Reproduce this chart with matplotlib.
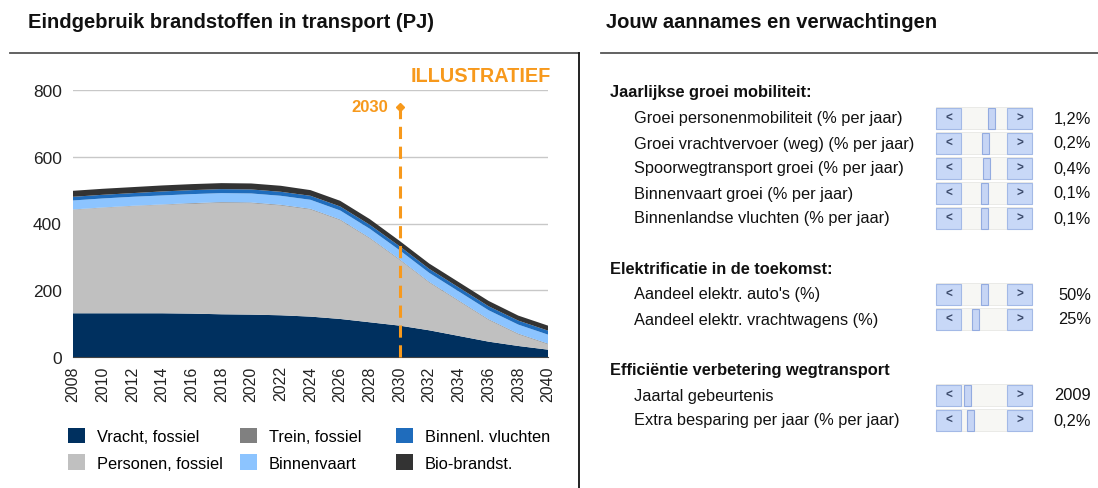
# -*- coding: utf-8 -*-

import numpy as np
import matplotlib
matplotlib.use('Agg')
import matplotlib.pyplot as plt
from matplotlib.patches import Rectangle

# lettertype (lijkt op Arial)
plt.rcParams['font.family'] = ['Liberation Sans', 'DejaVu Sans']

# ---- gegevens: eindgebruik brandstoffen (PJ) ----
jaren = [2008, 2010, 2012, 2014, 2016, 2018, 2020, 2022, 2024,
         2026, 2028, 2030, 2032, 2034, 2036, 2038, 2040]
vracht = [131, 131, 131, 131, 130, 128, 127, 125, 121, 114, 104, 94, 80, 63, 46, 33, 22]
personen = [310, 316, 321, 325, 329, 334, 334, 329, 321, 296, 251, 197, 143, 104, 65, 35, 16]
trein = [1, 1, 1, 1, 2, 2, 2, 2, 2, 2, 2, 2, 2, 2, 2, 2, 2]
binnenvaart = [27, 27, 27, 27, 27, 27, 27, 27, 27, 27, 27, 27, 27, 27, 27, 27, 27]
vluchten = [11, 11, 11, 12, 12, 12, 12, 12, 12, 12, 12, 12, 12, 12, 12, 12, 12]
bio = [18, 18, 18, 18, 18, 18, 18, 18, 17, 17, 17, 16, 16, 16, 16, 15, 15]

reeks_namen = ['Vracht, fossiel', 'Personen, fossiel', 'Trein, fossiel',
               'Binnenvaart', 'Binnenl. vluchten', 'Bio-brandst.']
markeer_jaar = 2030
markeer_hoogte = 750

# ---- gegevens: aannames (schuifbalken) ----
groep_titels = ['Jaarlijkse groei mobiliteit:', 'Elektrificatie in de toekomst:',
                'Efficiëntie verbetering wegtransport']
aanname_labels = ['Groei personenmobiliteit (% per jaar)',
                  'Groei vrachtvervoer (weg) (% per jaar)',
                  'Spoorwegtransport groei (% per jaar)',
                  'Binnenvaart groei (% per jaar)',
                  'Binnenlandse vluchten (% per jaar)',
                  "Aandeel elektr. auto's (%)",
                  'Aandeel elektr. vrachtwagens (%)',
                  'Jaartal gebeurtenis',
                  'Extra besparing per jaar (% per jaar)']
aanname_waarden = ['1,2%', '0,2%', '0,4%', '0,1%', '0,1%', '50%', '25%', '2009', '0,2%']

# stand van de schuifjes (0..1 over de baan)
schuif_stand = [0.66, 0.53, 0.55, 0.50, 0.50, 0.50, 0.30, 0.12, 0.20]

kleuren = ['#00305f', '#c0c0c0', '#808080', '#8cc4ff', '#1f6cbc', '#333333']
oranje = '#f7991c'

W, H = 1098, 489
fig = plt.figure(figsize=(W / 100, H / 100), dpi=100)

# ---- grafiek links ----
ax = fig.add_axes([73 / W, 1 - 358 / H, (548 - 73) / W, (358 - 91) / H])
lagen = ax.stackplot(jaren, vracht, personen, trein, binnenvaart, vluchten, bio,
                     colors=kleuren, labels=reeks_namen, linewidth=0, zorder=2)
ax.set_xlim(2008, 2040)
ax.set_ylim(0, 800)
ax.set_yticks([0, 200, 400, 600, 800])
ax.set_xticks(range(2008, 2041, 2))
ax.tick_params(axis='y', length=0, pad=8, labelsize=12.5, labelcolor='#222222')
ax.tick_params(axis='x', length=0, pad=6, labelsize=11.5, labelcolor='#222222',
               labelrotation=90)
ax.grid(axis='y', color='#c8c8c8', lw=1, zorder=0)
for s in ['left', 'right', 'top']:
    ax.spines[s].set_visible(False)
ax.spines['bottom'].set_color('#444444')
ax.spines['bottom'].set_zorder(3)

# verticale stippellijn 2030
ax.plot([markeer_jaar, markeer_jaar], [0, markeer_hoogte], color=oranje, lw=2.2,
        dashes=(4, 2.5), zorder=4, clip_on=False)
ax.plot([markeer_jaar], [markeer_hoogte], marker='D', ms=4, color=oranje,
        zorder=4, clip_on=False)
ax.text(markeer_jaar - 0.75, markeer_hoogte, str(markeer_jaar), color=oranje,
        fontsize=12, fontweight='bold', ha='right', va='center')

# legenda: drie kolommen van elk twee items
kolom_x = [68, 240, 396]
for k in range(3):
    leg = ax.legend(lagen[2 * k:2 * k + 2], reeks_namen[2 * k:2 * k + 2],
                    loc='upper left', bbox_to_anchor=(kolom_x[k] / W, 1 - 429 / H),
                    bbox_transform=fig.transFigure, frameon=False, fontsize=11.8,
                    handlelength=1.05, handleheight=1.05, handletextpad=0.72,
                    labelspacing=0.62, borderpad=0, borderaxespad=0)
    if k < 2:
        ax.add_artist(leg)

# ---- achtergrond / decoratie ----
bg = fig.add_axes([0, 0, 1, 1])
bg.set_xlim(0, W)
bg.set_ylim(H, 0)
bg.axis('off')

# titels en lijnen
bg.text(28, 22, 'Eindgebruik brandstoffen in transport (PJ)', fontsize=14.5,
        fontweight='bold', ha='left', va='center', color='#111111')
bg.text(606, 22, 'Jouw aannames en verwachtingen', fontsize=14.5,
        fontweight='bold', ha='left', va='center', color='#111111')
bg.plot([10, 579], [54, 54], color='#555555', lw=1.3)
bg.plot([579, 579], [54, H], color='#111111', lw=1.3)
bg.plot([601, W], [54, 54], color='#555555', lw=1.3)
bg.text(551, 76, 'ILLUSTRATIEF', color=oranje, fontsize=14.3, fontweight='bold',
        ha='right', va='center')

# aannames rechts
groep_y = [93, 270, 370]
rij_y = [119, 144, 169, 194, 219, 295, 320, 396, 421]
for g, titel in enumerate(groep_titels):
    bg.text(610, groep_y[g], titel, fontsize=11.8, fontweight='bold',
            ha='left', va='center', color='#111111')

knop_kleur = '#c8d8f7'
knop_rand = '#a3b9e6'
for i, label in enumerate(aanname_labels):
    y = rij_y[i]
    bg.text(634, y, label, fontsize=11.8, ha='left', va='center', color='#111111')
    bg.text(1091, y, aanname_waarden[i], fontsize=11.8, ha='right', va='center',
            color='#111111')
    top = y - 11
    # baan
    bg.add_patch(Rectangle((936, top), 96, 22, facecolor='#f7f7f4',
                           edgecolor='#e8e8e4', lw=0.6))
    # knoppen
    for xk, teken in [(936, '<'), (1007, '>')]:
        bg.add_patch(Rectangle((xk, top + 0.5), 25, 21, facecolor=knop_kleur,
                               edgecolor=knop_rand, lw=0.8))
        bg.text(xk + 12.5, y, teken, fontsize=8.5, fontweight='bold',
                color='#3b4a6b', ha='center', va='center')
    # schuifje
    xm = 962 + schuif_stand[i] * 44
    bg.add_patch(Rectangle((xm - 3.5, top + 0.5), 7, 21, facecolor='#c6d5f5',
                           edgecolor='#93abe0', lw=0.8))

fig.savefig('out.png', dpi=100)
